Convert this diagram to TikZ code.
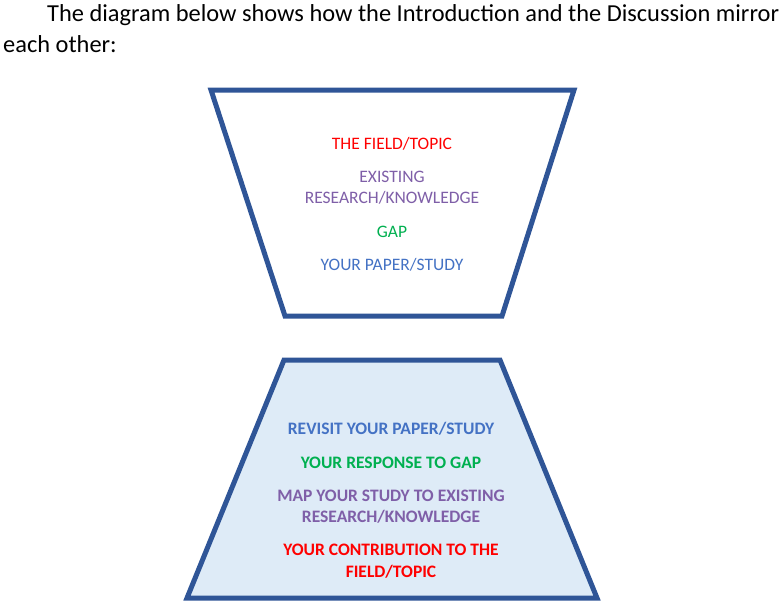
\documentclass[tikz,border=0pt]{standalone}
\usepackage{fontspec}
\setmainfont{Carlito}
\definecolor{edgeblue}{HTML}{2F5597}
\definecolor{fillblue}{HTML}{DEEBF7}
\definecolor{tred}{HTML}{FF0000}
\definecolor{tpurple}{HTML}{7F5FA8}
\definecolor{tgreen}{HTML}{00B050}
\definecolor{tblue}{HTML}{4472C4}
\tikzset{
  trap/.style={draw=edgeblue, line width=5pt, line join=miter},
  lbl/.style={anchor=base, inner sep=0pt, font=\fontsize{17.5}{21}\selectfont},
  blbl/.style={lbl, font=\fontsize{17.5}{21}\selectfont\bfseries},
  head/.style={anchor=base west, inner sep=0pt, font=\fontsize{24.4}{28}\selectfont}
}
\begin{document}
\begin{tikzpicture}[x=1pt,y=-1pt]
\useasboundingbox (0,0) rectangle (783,608);
\node[head] (h1) at (47,21) {The diagram below shows how the Introduction and the Discussion mirror};
\node[head] (h2) at (3,52) {each other:};
% top trapezoid
\coordinate (a1) at (211,90);
\coordinate (a2) at (574,90);
\coordinate (a3) at (502,316);
\coordinate (a4) at (285,316);
\draw[trap, fill=white] (a1) -- (a2) -- (a3) -- (a4) -- cycle;
% bottom trapezoid
\coordinate (b1) at (284,360);
\coordinate (b2) at (500,360);
\coordinate (b3) at (597,598);
\coordinate (b4) at (187,598);
\draw[trap, fill=fillblue] (b1) -- (b2) -- (b3) -- (b4) -- cycle;
% top texts
\node[lbl, text=tred] (t1) at (392,149) {THE FIELD/TOPIC};
\node[lbl, text=tpurple] (t2a) at (392,182) {EXISTING};
\node[lbl, text=tpurple] (t2b) at (392,203) {RESEARCH/KNOWLEDGE};
\node[lbl, text=tgreen] (t3) at (392,237) {GAP};
\node[lbl, text=tblue] (t4) at (392,270) {YOUR PAPER/STUDY};
% bottom texts
\node[blbl, text=tblue] (u1) at (391,434) {REVISIT YOUR PAPER/STUDY};
\node[blbl, text=tgreen] (u2) at (391,468) {YOUR RESPONSE TO GAP};
\node[blbl, text=tpurple] (u3a) at (391,501) {MAP YOUR STUDY TO EXISTING};
\node[blbl, text=tpurple] (u3b) at (391,522) {RESEARCH/KNOWLEDGE};
\node[blbl, text=tred] (u4a) at (391,555) {YOUR CONTRIBUTION TO THE};
\node[blbl, text=tred] (u4b) at (391,577) {FIELD/TOPIC};
\end{tikzpicture}
\end{document}
